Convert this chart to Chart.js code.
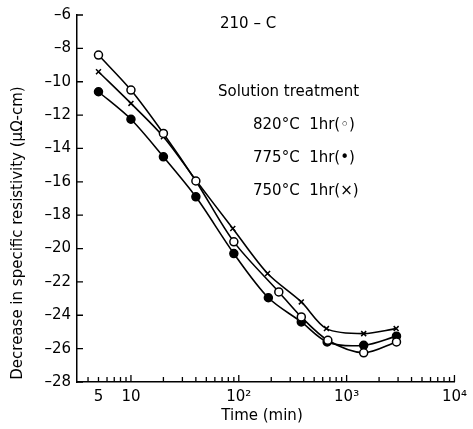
<!DOCTYPE html>
<html>
<head>
<meta charset="utf-8">
<script src="https://cdn.jsdelivr.net/npm/chart.js@4/dist/chart.umd.min.js"></script>
<style>
  html, body { margin: 0; padding: 0; background: #fff; }
  #wrap { width: 473px; height: 429px; }
</style>
</head>
<body>
<div id="wrap"><canvas id="my-chart"></canvas></div>
<script>
'use strict';

// *********** DATA ****************

let times820 = [5, 10, 20, 40, 90, 235, 380, 670, 1440, 2900];
let vals820 = [-8.4, -10.5, -13.1, -15.95, -19.6, -22.6, -24.1, -25.5, -26.25, -25.6];

let times775 = [5, 10, 20, 40, 90, 188, 380, 660, 1440, 2900];
let vals775 = [-10.6, -12.25, -14.5, -16.9, -20.3, -22.95, -24.4, -25.6, -25.8, -25.25];

let times750 = [5, 10, 20, 40, 88, 185, 380, 650, 1440, 2880];
let vals750 = [-9.4, -11.3, -13.3, -15.9, -18.8, -21.5, -23.2, -24.8, -25.1, -24.8];

let xTickVals = [5, 10, 100, 1000, 10000];
let xTickLabels = ['5', '10', '10²', '10³', '10⁴'];
let yMin = -28;
let yMax = -6;

// ********** HELPERS *******************

function toPoints(xs, ys) {
  let pts = [];
  for (let i = 0; i < xs.length; i++) {
    pts.push({ x: xs[i], y: ys[i] });
  }
  return pts;
}

let FONT = '"DejaVu Sans", sans-serif';

// inward ticks, y title, annotations
let extras = {
  id: 'extras',
  afterDraw(chart) {
    let ctx = chart.ctx;
    let xs = chart.scales.x;
    let ys = chart.scales.y;
    let area = chart.chartArea;
    ctx.save();
    ctx.strokeStyle = '#000';
    ctx.lineWidth = 1.3;

    // x minor ticks pointing up
    ctx.beginPath();
    for (let d = 1; d <= 1000; d *= 10) {
      for (let m = 1; m <= 10; m++) {
        let v = d * m;
        if (v < xs.min || v > xs.max) continue;
        let px = xs.getPixelForValue(v);
        let len = (m === 1 || m === 10) ? 7 : 5;
        ctx.moveTo(px, area.bottom);
        ctx.lineTo(px, area.bottom - len);
      }
    }
    // y ticks pointing right
    for (let v = yMin; v <= yMax; v += 2) {
      let py = ys.getPixelForValue(v);
      ctx.moveTo(area.left, py);
      ctx.lineTo(area.left + 6, py);
    }
    ctx.stroke();

    ctx.fillStyle = '#000';
    ctx.font = '15px ' + FONT;
    ctx.textAlign = 'center';
    ctx.textBaseline = 'middle';

    // axis titles
    ctx.fillText('Time (min)', 262, 416);
    ctx.save();
    ctx.translate(18, 233);
    ctx.rotate(-Math.PI / 2);
    ctx.fillText('Decrease in specific resistivity (μΩ-cm)', 0, 0);
    ctx.restore();

    // annotations
    ctx.font = '15px ' + FONT;
    ctx.textAlign = 'left';
    ctx.fillText('210 – C', 220, 24);
    ctx.fillText('Solution treatment', 218, 92);
    ctx.fillText('820°C  1hr(◦)', 253, 125);
    ctx.fillText('775°C  1hr(•)', 253, 158);
    ctx.fillText('750°C  1hr(×)', 253, 191);
    ctx.restore();
  }
};

// ******** CHART ***********

let ctx = document.getElementById('my-chart').getContext('2d');

let lineBase = {
  borderColor: '#000',
  borderWidth: 1.6,
  tension: 0.3,
  pointRadius: 4,
  pointBorderColor: '#000',
  pointBorderWidth: 1.5
};

new Chart(ctx, {
  type: 'line',
  data: {
    datasets: [
      Object.assign({}, lineBase, {
        label: '820°C 1hr',
        data: toPoints(times820, vals820),
        pointStyle: 'circle',
        pointBackgroundColor: '#fff'
      }),
      Object.assign({}, lineBase, {
        label: '775°C 1hr',
        data: toPoints(times775, vals775),
        pointStyle: 'circle',
        pointBackgroundColor: '#000'
      }),
      Object.assign({}, lineBase, {
        label: '750°C 1hr',
        data: toPoints(times750, vals750),
        pointStyle: 'crossRot',
        pointRadius: 3.5
      })
    ]
  },
  options: {
    responsive: true,
    maintainAspectRatio: false,
    animation: false,
    layout: { padding: { top: 15, right: 15, left: 0, bottom: 0 } },
    plugins: {
      legend: { display: false },
      tooltip: { enabled: false }
    },
    scales: {
      x: {
        type: 'logarithmic',
        min: 3.16,
        max: 10000,
        grid: { display: false, drawTicks: false },
        border: { display: true, color: '#000', width: 1.5 },
        afterBuildTicks: function (scale) {
          scale.ticks = xTickVals.map(function (v) { return { value: v }; });
        },
        afterFit: function (scale) { scale.height = 47; },
        ticks: {
          color: '#000',
          padding: 6,
          maxRotation: 0,
          autoSkip: false,
          font: { family: FONT, size: 15 },
          callback: function (value) {
            let i = xTickVals.indexOf(value);
            return i >= 0 ? xTickLabels[i] : '';
          }
        }
      },
      y: {
        min: yMin,
        max: yMax,
        grid: { display: false, drawTicks: false },
        border: { display: true, color: '#000', width: 1.5 },
        afterFit: function (scale) { scale.width = 77; },
        ticks: {
          stepSize: 2,
          color: '#000',
          padding: 6,
          font: { family: FONT, size: 15 },
          callback: function (value) {
            return String(value).replace('-', '–');
          }
        }
      }
    }
  },
  plugins: [extras]
});
</script>
</body>
</html>
